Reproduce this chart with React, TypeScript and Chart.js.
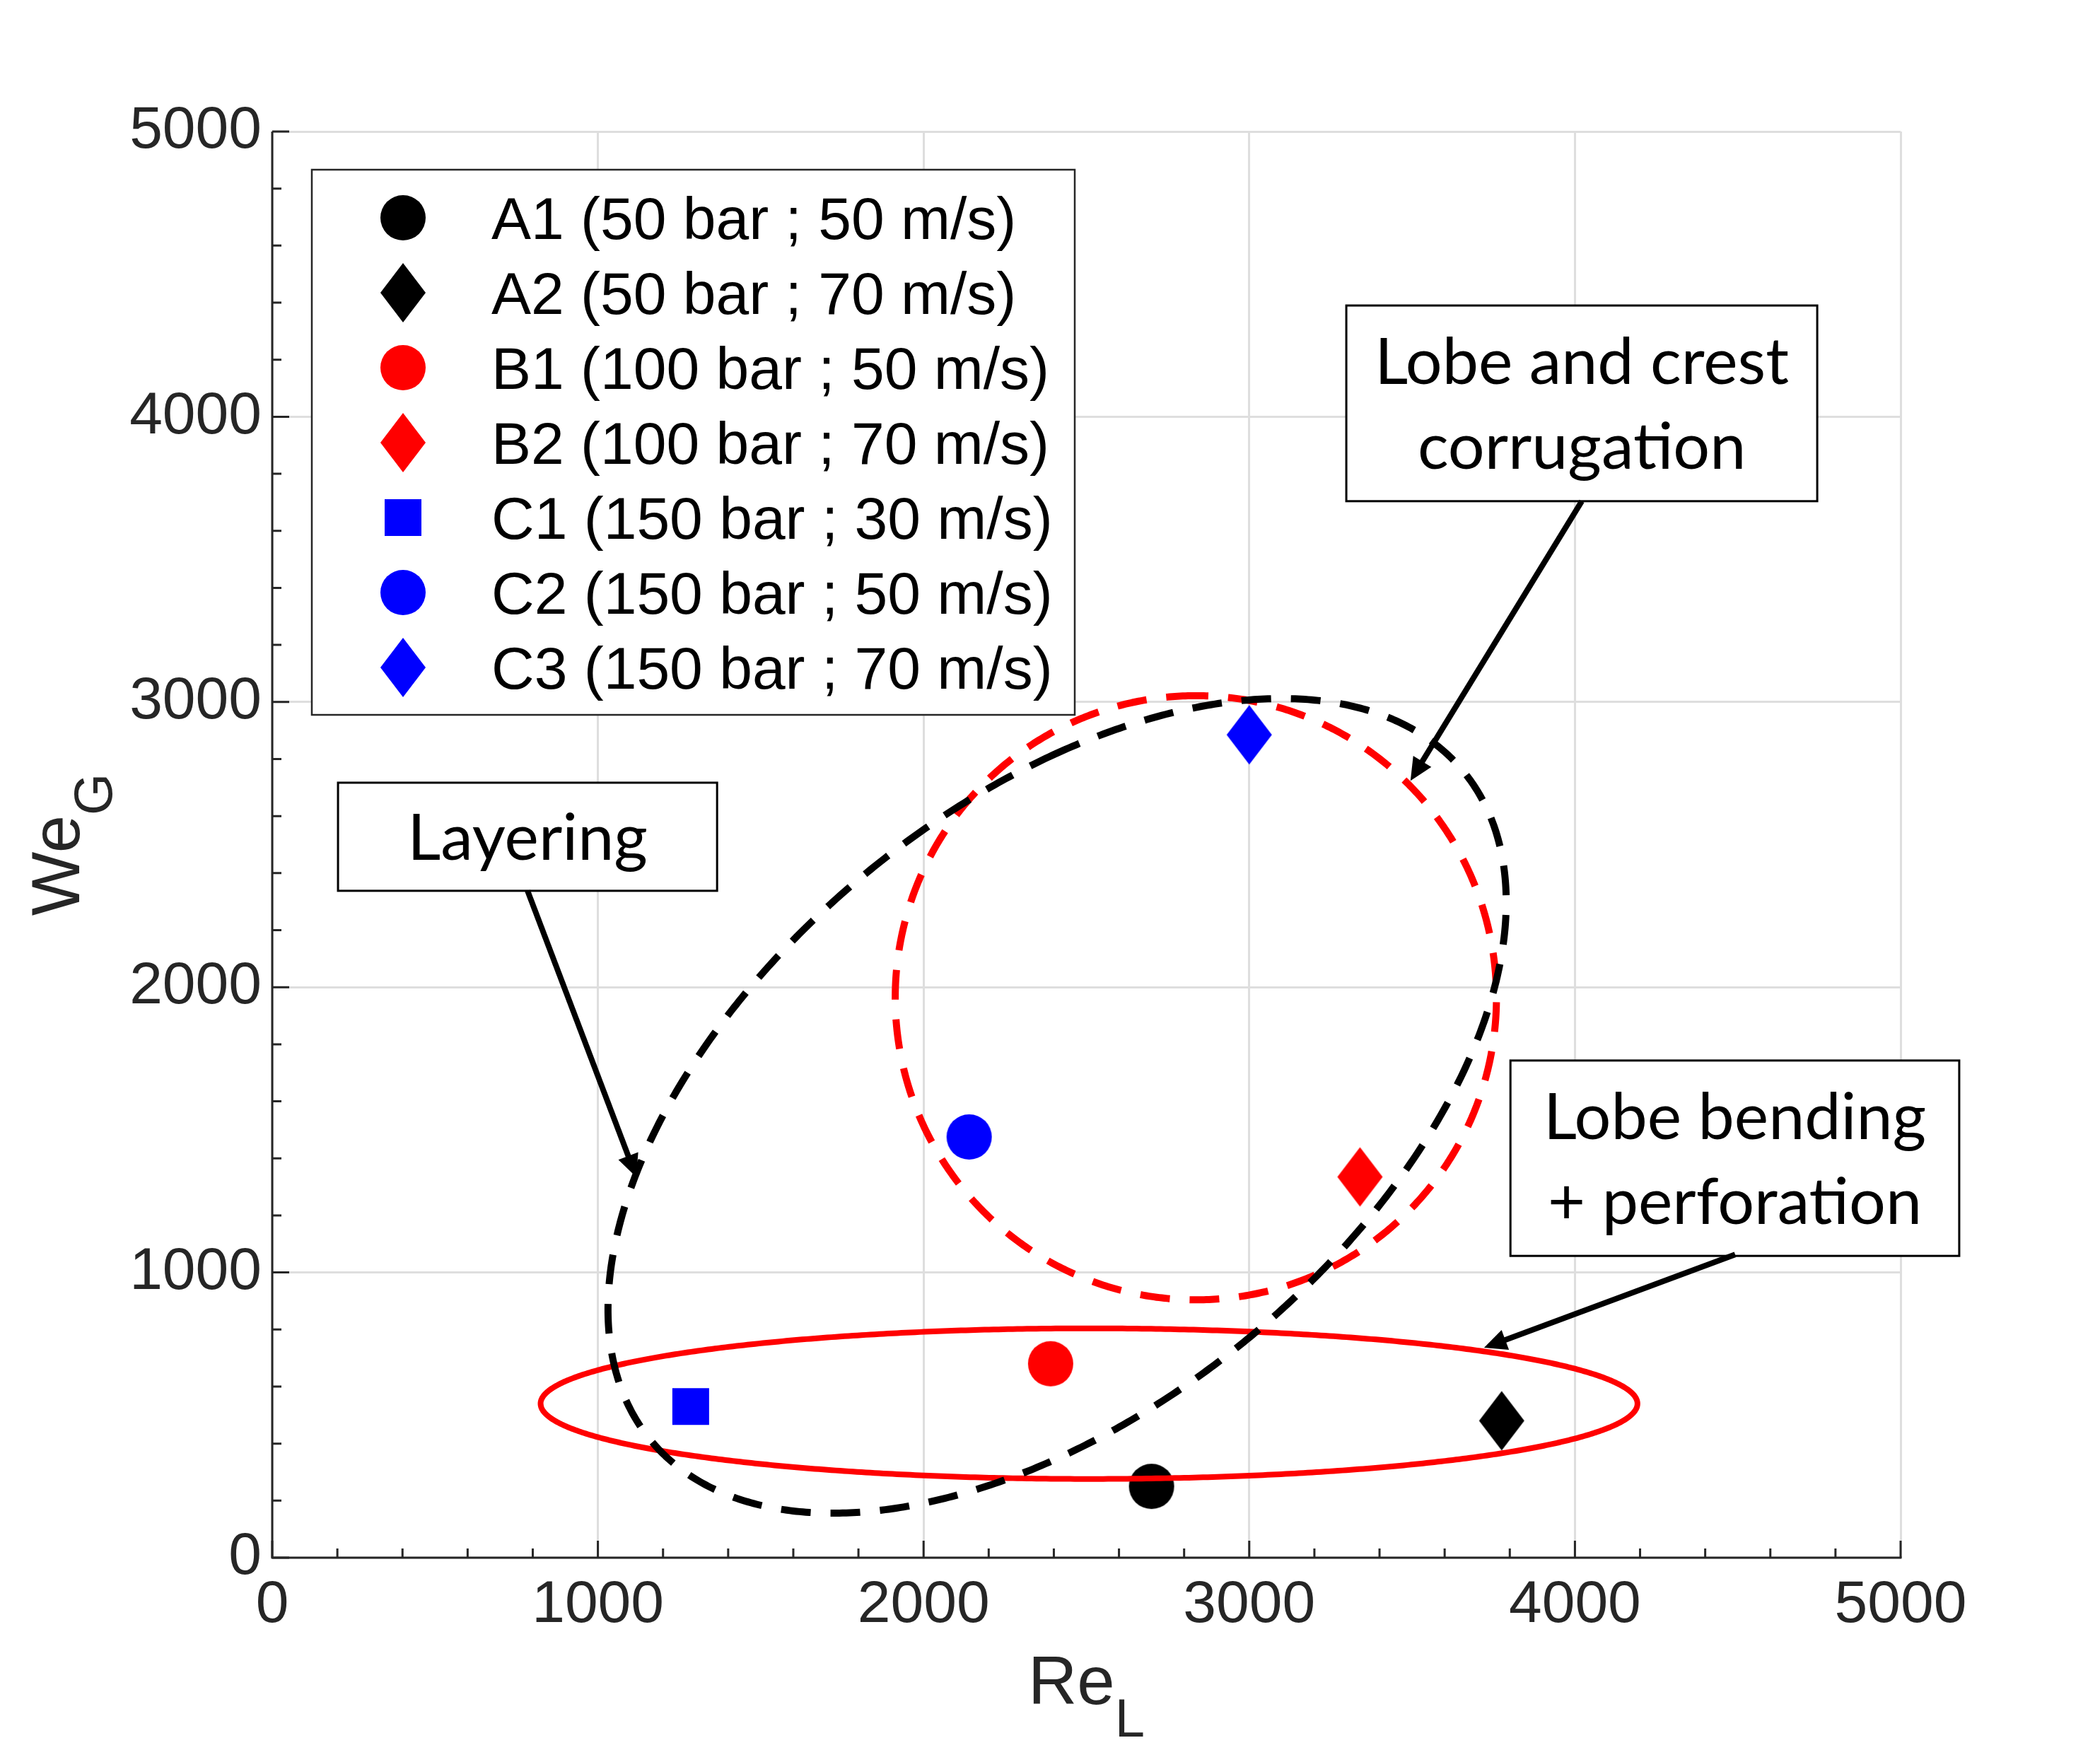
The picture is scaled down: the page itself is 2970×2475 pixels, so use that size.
import React, { useEffect, useRef } from 'react';
import { Chart, registerables } from 'chart.js';

Chart.register(...registerables);

// ---- data ----
const seriesLabels = [
  'A1 (50 bar ; 50 m/s)',
  'A2 (50 bar ; 70 m/s)',
  'B1 (100 bar ; 50 m/s)',
  'B2 (100 bar ; 70 m/s)',
  'C1 (150 bar ; 30 m/s)',
  'C2 (150 bar ; 50 m/s)',
  'C3 (150 bar ; 70 m/s)',
];
const seriesRe = [2700, 3775, 2390, 3340, 1285, 2140, 3000];
const seriesWe = [250, 480, 680, 1335, 530, 1475, 2885];
const seriesColors = ['#000000', '#000000', '#ff0000', '#ff0000', '#0000ff', '#0000ff', '#0000ff'];
const seriesShapes = ['circle', 'diamond', 'circle', 'diamond', 'square', 'circle', 'diamond'];

const axisMin = 0;
const axisMax = 5000;
const majorStep = 1000;
const minorStep = 200;

// regime ellipses (data units): x = cx + rx cos t, y = cy + ry cos(t - phase)
const ellipseCenterX = [2508, 2836, 2410];
const ellipseCenterY = [540, 1963, 1584];
const ellipseRadiusX = [1684, 923, 1379];
const ellipseRadiusY = [264, 1059, 1428];
const ellipsePhaseDeg = [90, 90, 60];
const ellipseColors = ['#ff0000', '#ff0000', '#000000'];
const ellipseDashed = [false, true, true];

// annotations (data units)
const noteLines = [['Layering'], ['Lobe and crest', 'corrugation'], ['Lobe bending', '+ perforation']];
const noteBoxX0 = [202, 3298, 3802];
const noteBoxX1 = [1366, 4744, 5180];
const noteBoxYTop = [2717, 4390, 1743];
const noteBoxYBottom = [2338, 3704, 1058];
const arrowFromX = [784, 4021, 4492];
const arrowFromY = [2338, 3704, 1063];
const arrowToX = [1118, 3495, 3721];
const arrowToY = [1334, 2724, 736];

// ---- styles ----
const AXIS_COLOR = '#262626';
const GRID_COLOR = '#dedede';
const SANS = '"Liberation Sans", Arial, Helvetica, sans-serif';
const NOTE_FONT = 'Lato, "Open Sans", sans-serif';

function makeMarker(shape: string, color: string): HTMLCanvasElement {
  const c = document.createElement('canvas');
  let w = 66;
  let h = 66;
  if (shape === 'diamond') { w = 66; h = 86; }
  if (shape === 'square') { w = 54; h = 54; }
  c.width = w;
  c.height = h;
  const g = c.getContext('2d')!;
  g.fillStyle = color;
  g.beginPath();
  if (shape === 'circle') {
    g.arc(w / 2, h / 2, 32, 0, Math.PI * 2);
  } else if (shape === 'diamond') {
    g.moveTo(w / 2, 1);
    g.lineTo(w - 1, h / 2);
    g.lineTo(w / 2, h - 1);
    g.lineTo(1, h / 2);
    g.closePath();
  } else {
    g.rect(1, 1, w - 2, h - 2);
  }
  g.fill();
  return c;
}

function drawArrow(ctx: CanvasRenderingContext2D, x0: number, y0: number, x1: number, y1: number) {
  const ang = Math.atan2(y1 - y0, x1 - x0);
  const L = 32;
  const W = 15;
  const c = Math.cos(ang);
  const s = Math.sin(ang);
  const bx = x1 - L * c;
  const by = y1 - L * s;
  ctx.strokeStyle = '#000';
  ctx.fillStyle = '#000';
  ctx.lineWidth = 8;
  ctx.setLineDash([]);
  ctx.beginPath();
  ctx.moveTo(x0, y0);
  ctx.lineTo(bx + 2 * c, by + 2 * s);
  ctx.stroke();
  ctx.beginPath();
  ctx.moveTo(x1, y1);
  ctx.lineTo(bx + W * s, by - W * c);
  ctx.lineTo(bx - W * s, by + W * c);
  ctx.closePath();
  ctx.fill();
}

const overlayPlugin = {
  id: 'overlay',
  beforeDatasetsDraw(chart: any) {
    const { ctx, chartArea: a, scales } = chart;
    const xs = scales.x;
    const ys = scales.y;
    ctx.save();
    ctx.strokeStyle = AXIS_COLOR;
    ctx.lineWidth = 3;
    ctx.beginPath();
    ctx.moveTo(a.left, a.top);
    ctx.lineTo(a.left, a.bottom);
    ctx.lineTo(a.right + 1.5, a.bottom);
    ctx.stroke();
    for (let v = axisMin; v <= axisMax; v += minorStep) {
      const len = v % majorStep === 0 ? 24 : 13;
      const px = xs.getPixelForValue(v);
      const py = ys.getPixelForValue(v);
      ctx.beginPath();
      ctx.moveTo(px, a.bottom);
      ctx.lineTo(px, a.bottom - len);
      ctx.moveTo(a.left, py);
      ctx.lineTo(a.left + len, py);
      ctx.stroke();
    }
    ctx.restore();
  },
  afterDatasetsDraw(chart: any) {
    const { ctx, chartArea: a, scales } = chart;
    const xs = scales.x;
    const ys = scales.y;
    ctx.save();

    // ellipses
    for (let e = 0; e < ellipseCenterX.length; e++) {
      const ph = (ellipsePhaseDeg[e] * Math.PI) / 180;
      ctx.beginPath();
      const N = 720;
      for (let k = 0; k <= N; k++) {
        const t = (k / N) * Math.PI * 2 + Math.PI / 2;
        const vx = ellipseCenterX[e] + ellipseRadiusX[e] * Math.cos(t);
        const vy = ellipseCenterY[e] + ellipseRadiusY[e] * Math.cos(t - ph);
        const px = xs.getPixelForValue(vx);
        const py = ys.getPixelForValue(vy);
        if (k === 0) ctx.moveTo(px, py);
        else ctx.lineTo(px, py);
      }
      ctx.closePath();
      ctx.strokeStyle = ellipseColors[e];
      ctx.lineWidth = ellipseDashed[e] ? 10 : 8;
      ctx.setLineDash(ellipseDashed[e] ? [42, 28] : []);
      ctx.stroke();
    }
    ctx.setLineDash([]);

    // note font size: fit reference width of the text
    ctx.font = `100px ${NOTE_FONT}`;
    const refW = ctx.measureText('Lobe and crest').width;
    const noteSize = (100 * 586) / refW;
    const capH = noteSize * 0.7165;
    const lineGap = 120;

    for (let n = 0; n < noteLines.length; n++) {
      const x0 = xs.getPixelForValue(noteBoxX0[n]);
      const x1 = xs.getPixelForValue(noteBoxX1[n]);
      const y0 = ys.getPixelForValue(noteBoxYTop[n]);
      const y1 = ys.getPixelForValue(noteBoxYBottom[n]);
      ctx.fillStyle = '#ffffff';
      ctx.fillRect(x0, y0, x1 - x0, y1 - y0);
      ctx.strokeStyle = '#000';
      ctx.lineWidth = 3;
      ctx.strokeRect(x0, y0, x1 - x0, y1 - y0);
      ctx.fillStyle = '#000';
      ctx.font = `${noteSize}px ${NOTE_FONT}`;
      ctx.textAlign = 'center';
      ctx.textBaseline = 'alphabetic';
      const lines = noteLines[n];
      const cy = (y0 + y1) / 2;
      const cx = (x0 + x1) / 2;
      lines.forEach((ln, i) => {
        const c = cy + (i - (lines.length - 1) / 2) * lineGap;
        ctx.fillText(ln, cx, c + capH / 2);
      });
      drawArrow(
        ctx,
        xs.getPixelForValue(arrowFromX[n]),
        ys.getPixelForValue(arrowFromY[n]),
        xs.getPixelForValue(arrowToX[n]),
        ys.getPixelForValue(arrowToY[n])
      );
    }

    // legend
    const lx = a.left + 56;
    const ly = a.top + 54;
    const lw = 1079;
    const lh = 771;
    ctx.fillStyle = '#ffffff';
    ctx.fillRect(lx, ly, lw, lh);
    ctx.strokeStyle = AXIS_COLOR;
    ctx.lineWidth = 2.5;
    ctx.strokeRect(lx, ly, lw, lh);
    ctx.font = `84px ${SANS}`;
    ctx.textAlign = 'left';
    ctx.textBaseline = 'alphabetic';
    ctx.fillStyle = '#000';
    chart.data.datasets.forEach((ds: any, i: number) => {
      const cyy = ly + 68 + i * 106;
      const m = ds.pointStyle as HTMLCanvasElement;
      ctx.drawImage(m, lx + 129 - m.width / 2, cyy - m.height / 2);
      ctx.fillText(ds.label, lx + 254, cyy + 30);
    });
    ctx.restore();
  },
  afterDraw(chart: any) {
    const { ctx, chartArea: a } = chart;
    ctx.save();
    ctx.fillStyle = AXIS_COLOR;
    ctx.textAlign = 'left';
    ctx.textBaseline = 'alphabetic';
    // x title Re_L
    ctx.font = `96px ${SANS}`;
    const wRe = ctx.measureText('Re').width;
    ctx.font = `76px ${SANS}`;
    const wL = ctx.measureText('L').width;
    const cx = (a.left + a.right) / 2;
    const sx = cx - (wRe + wL) / 2;
    ctx.font = `96px ${SANS}`;
    ctx.fillText('Re', sx, 2410);
    ctx.font = `76px ${SANS}`;
    ctx.fillText('L', sx + wRe, 2456);
    // y title We_G
    ctx.font = `96px ${SANS}`;
    const wWe = ctx.measureText('We').width;
    ctx.font = `76px ${SANS}`;
    const wG = ctx.measureText('G').width;
    const cyy = (a.top + a.bottom) / 2;
    ctx.translate(112, cyy + (wWe + wG) / 2);
    ctx.rotate(-Math.PI / 2);
    ctx.font = `96px ${SANS}`;
    ctx.fillText('We', 0, 0);
    ctx.font = `76px ${SANS}`;
    ctx.fillText('G', wWe, 46);
    ctx.restore();
  },
};

export default function App() {
  const ref = useRef<HTMLCanvasElement>(null);
  useEffect(() => {
    const canvas = ref.current!;
    const datasets = seriesLabels.map((label, i) => ({
      label,
      data: [{ x: seriesRe[i], y: seriesWe[i] }],
      pointStyle: makeMarker(seriesShapes[i], seriesColors[i]),
      pointRadius: 32,
      backgroundColor: seriesColors[i],
      borderColor: seriesColors[i],
      showLine: false,
    }));
    const tickFont = { family: SANS, size: 84 };
    const fmt = (v: any) => String(v);
    const chart = new Chart(canvas, {
      type: 'scatter',
      data: { datasets } as any,
      plugins: [overlayPlugin as any],
      options: {
        animation: false,
        responsive: false,
        devicePixelRatio: 1,
        events: [],
        layout: { padding: { left: 0, right: 282, top: 186, bottom: 0 } },
        plugins: { legend: { display: false }, tooltip: { enabled: false } },
        scales: {
          x: {
            type: 'linear',
            min: axisMin,
            max: axisMax,
            ticks: { stepSize: majorStep, font: tickFont, color: AXIS_COLOR, padding: 17, maxRotation: 0, autoSkip: false, callback: fmt },
            grid: { color: GRID_COLOR, lineWidth: 3, drawTicks: false },
            border: { display: false },
            afterFit: (s: any) => { s.height = 272; },
          },
          y: {
            type: 'linear',
            min: axisMin,
            max: axisMax,
            ticks: { stepSize: majorStep, font: tickFont, color: AXIS_COLOR, padding: 15, autoSkip: false, callback: fmt },
            grid: { color: GRID_COLOR, lineWidth: 3, drawTicks: false },
            border: { display: false },
            afterFit: (s: any) => { s.width = 385; },
          },
        },
      } as any,
    });
    return () => chart.destroy();
  }, []);
  return (
    <div style={{ position: 'absolute', left: 0, top: 0, width: 2970, height: 2475, background: '#ffffff' }}>
      <canvas ref={ref} width={2970} height={2475} style={{ width: 2970, height: 2475, display: 'block' }} />
    </div>
  );
}
